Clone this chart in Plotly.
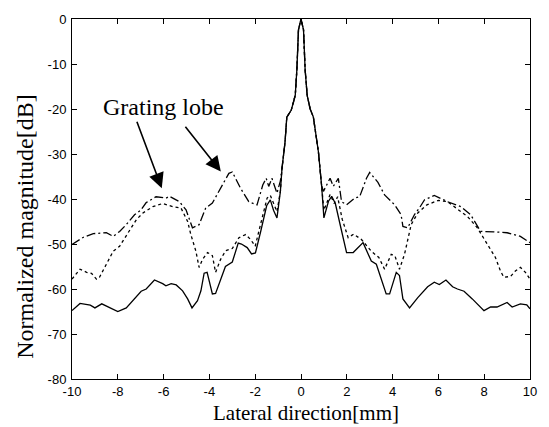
import plotly.graph_objects as go

# ---- data ----
main_x = [-0.83, -0.7, -0.62, -0.43, -0.33, -0.25, -0.18, -0.11, 0.0, 0.11, 0.18, 0.27, 0.4, 0.54, 0.76, 0.9]
main_y = [-33.2, -27.5, -21.8, -20.3, -18.5, -16.9, -11.2, -2.4, 0.0, -2.4, -11.2, -17.0, -20.0, -21.8, -29.5, -37.0]

solid_left_x = [-10, -9.65, -9.2, -9.0, -8.7, -8.35, -8.0, -7.63, -7.34, -6.98, -6.76, -6.4, -6.04, -5.9, -5.67,
                -5.45, -5.17, -4.95, -4.76, -4.52, -4.37, -4.23, -4.1, -4.0, -3.87, -3.73, -3.58, -3.3, -3.0,
                -2.74, -2.6, -2.35, -2.16, -1.99, -1.75, -1.5, -1.34, -1.2, -1.05, -0.9]
solid_left_y = [-64.8, -63.2, -63.6, -64.2, -63.3, -64.2, -65.0, -64.2, -62.6, -60.5, -60.0, -58.0, -58.8, -59.3, -58.8,
                -59.1, -60.4, -62.2, -64.2, -62.6, -60.4, -56.5, -56.3, -58.5, -61.1, -61.0, -58.9, -55.0, -54.0,
                -49.8, -50.0, -50.8, -52.2, -52.0, -47.0, -41.5, -40.2, -42.5, -44.2, -38.3]
solid_right_x = [1.0, 1.2, 1.34, 1.5, 1.7, 1.99, 2.28, 2.71, 3.07, 3.29, 3.72, 3.87, 4.16, 4.3, 4.45, 4.74, 5.1,
                 5.53, 5.82, 6.04, 6.33, 6.62, 6.83, 7.12, 7.48, 7.99, 8.28, 8.56, 9.0, 9.22, 9.58, 9.86, 10.0]
solid_right_y = [-44.2, -40.5, -39.4, -41.0, -45.5, -51.9, -51.9, -49.7, -53.8, -54.5, -61.1, -61.1, -56.3, -57.0,
                 -62.2, -64.2, -61.9, -59.5, -58.5, -59.0, -58.0, -59.5, -60.0, -60.5, -62.2, -64.8, -64.0, -64.0,
                 -63.0, -64.0, -63.3, -63.5, -64.4]

dash_left_x = [-10, -9.65, -9.36, -9.15, -8.93, -8.8, -8.5, -8.2, -7.92, -7.56, -7.19, -6.9, -6.47, -6.04, -5.6,
               -5.24, -4.95, -4.81, -4.59, -4.45, -4.3, -4.08, -3.87, -3.73, -3.51, -3.29, -3.0, -2.71, -2.42,
               -2.2, -2.0, -1.77, -1.48, -1.34, -1.05, -0.9]
dash_left_y = [-57.8, -55.6, -56.3, -56.5, -57.8, -57.4, -54.5, -51.6, -50.5, -47.5, -44.6, -43.1, -41.7, -41.0, -41.7,
               -42.0, -45.0, -47.9, -51.6, -55.2, -53.4, -51.9, -52.6, -56.3, -53.4, -51.5, -51.0, -48.6, -47.9,
               -49.0, -50.5, -45.7, -39.8, -39.2, -42.8, -38.3]
dash_right_x = [1.0, 1.27, 1.45, 1.6, 1.8, 2.06, 2.3, 2.64, 3.07, 3.4, 3.65, 3.94, 4.1, 4.3, 4.52, 4.81, 5.1, 5.5,
                6.0, 6.4, 6.69, 7.27, 7.7, 8.13, 8.49, 8.71, 8.86, 9.15, 9.36, 9.58, 9.8, 10.0]
dash_right_y = [-42.5, -39.0, -41.0, -39.5, -44.5, -48.6, -47.8, -49.0, -51.6, -53.0, -55.6, -52.3, -52.6, -55.6,
                -52.3, -45.7, -43.1, -41.3, -40.3, -40.6, -41.7, -43.9, -46.4, -50.1, -53.0, -56.0, -57.4, -57.2,
                -56.0, -55.2, -56.3, -57.8]

dd_left_x = [-10, -9.5, -9.07, -8.5, -8.2, -7.92, -7.63, -7.27, -7.0, -6.76, -6.33, -5.89, -5.75, -5.31, -5.02,
             -4.74, -4.45, -4.16, -3.87, -3.44, -3.15, -3.0, -2.64, -2.28, -1.92, -1.67, -1.52, -1.41, -1.27,
             -1.05, -0.9]
dd_left_y = [-50.1, -48.5, -47.7, -47.5, -48.3, -47.2, -45.7, -43.5, -42.5, -40.8, -39.5, -39.8, -39.4, -40.6, -42.4,
             -46.4, -45.7, -42.0, -40.9, -36.9, -34.3, -34.0, -37.6, -40.6, -41.3, -36.9, -35.4, -37.2, -35.4,
             -38.7, -36.0]
dd_right_x = [0.98, 1.27, 1.41, 1.63, 1.77, 1.99, 2.35, 2.56, 2.86, 3.0, 3.36, 3.65, 4.09, 4.37, 4.45, 4.66, 4.95,
              5.17, 5.39, 5.82, 6.4, 6.98, 7.41, 7.84, 8.42, 9.0, 9.58, 10.0]
dd_right_y = [-38.3, -35.4, -37.2, -35.4, -40.6, -41.3, -39.8, -39.5, -35.4, -34.1, -36.3, -39.1, -41.3, -43.5,
              -46.1, -46.4, -43.5, -42.0, -40.2, -39.2, -40.6, -41.7, -43.5, -47.2, -47.3, -47.5, -48.3, -49.7]

x_ticks = [-10, -8, -6, -4, -2, 0, 2, 4, 6, 8, 10]
y_ticks = [0, -10, -20, -30, -40, -50, -60, -70, -80]

x_title = "Lateral direction[mm]"
y_title = "Normalized magnitude[dB]"
label_text = "Grating lobe"
label_pos = (-6.0, -19.6)
arrows = [((-6.08, -37.6), (-7.19, -22.5)), ((-3.5, -33.9), (-5.1, -23.6))]

# ---- figure ----
fig = go.Figure()
series = [
    (solid_left_x, solid_left_y, solid_right_x, solid_right_y, "solid"),
    (dash_left_x, dash_left_y, dash_right_x, dash_right_y, "3px,3px"),
    (dd_left_x, dd_left_y, dd_right_x, dd_right_y, "9px,3px,2px,3px"),
]
for lx, ly, rx, ry, dash in series:
    fig.add_trace(go.Scatter(
        x=lx + main_x + rx, y=ly + main_y + ry, mode="lines",
        line=dict(color="black", width=1.3, dash=dash), showlegend=False,
    ))

serif = "Liberation Serif, Times New Roman, serif"
axis_common = dict(
    showgrid=False, zeroline=False, showline=True, linecolor="black", linewidth=1,
    mirror="ticks", ticks="inside", ticklen=5, tickcolor="black",
    tickfont=dict(family="Liberation Sans, Arial", size=13, color="black"),
)
fig.update_xaxes(range=[-10, 10], tickvals=x_ticks, ticktext=[str(v) for v in x_ticks],
                 ticklabelstandoff=0, **axis_common)
fig.update_yaxes(range=[-80, 0], tickvals=y_ticks, ticktext=[str(v) for v in y_ticks],
                 ticklabelstandoff=2, **axis_common)

# axis titles as annotations (positioned like the reference)
fig.add_annotation(xref="paper", yref="paper", x=0.511, y=-0.0935, text=x_title, showarrow=False,
                   yanchor="middle", borderpad=0, font=dict(family=serif, size=21, color="black"))
fig.add_annotation(xref="paper", yref="paper", x=-0.103, y=0.425, text=y_title, showarrow=False,
                   textangle=-90, xanchor="center", font=dict(family=serif, size=24, color="black"))

fig.add_annotation(x=label_pos[0], y=label_pos[1], text=label_text, showarrow=False,
                   font=dict(family=serif, size=24, color="black"))
for tip, tail in arrows:
    fig.add_annotation(x=tip[0], y=tip[1], ax=tail[0], ay=tail[1], axref="x", ayref="y",
                       text="", showarrow=True, arrowhead=2, arrowsize=1.9, arrowwidth=1.6,
                       arrowcolor="black")

fig.update_layout(
    width=549, height=427, margin=dict(l=72, r=16, t=16, b=48),
    paper_bgcolor="white", plot_bgcolor="white",
)
fig.write_html("out.html")
